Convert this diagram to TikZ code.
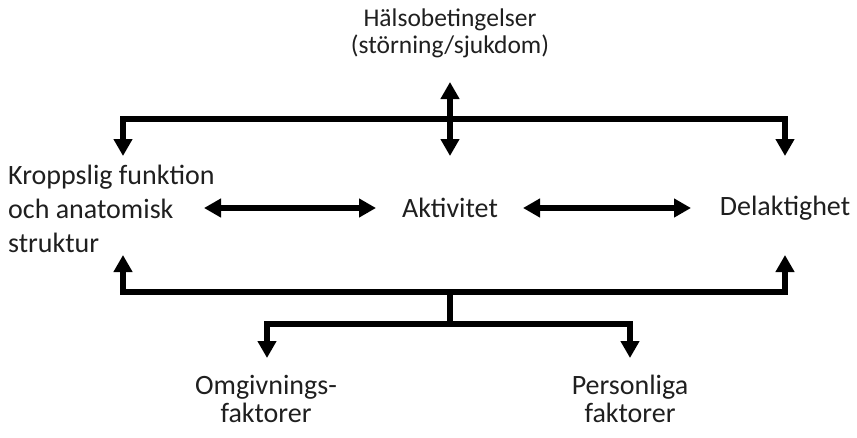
\documentclass[tikz,border=0pt]{standalone}
\usepackage{fontspec}
\setmainfont{Carlito}
\usetikzlibrary{arrows.meta}
\begin{document}
\begin{tikzpicture}[x=1pt,y=-1pt,
  conn/.style={line width=5.5pt, line join=miter, line cap=butt},
  arr/.style={conn, -{Triangle[width=18pt,length=17pt]}},
  dbl/.style={conn, {Triangle[width=18pt,length=17pt]}-{Triangle[width=18pt,length=17pt]}},
  lbl/.style={inner sep=0pt, text=black!88, align=center, font=\fontsize{28}{33}\selectfont}
]
\useasboundingbox (0,0) rectangle (857,437);
% nodes
\node[lbl, font=\fontsize{25.5}{27}\selectfont] (halsa) at (450,33) {Hälsobetingelser\\(störning/sjukdom)};
\node[lbl, anchor=west, align=left, font=\fontsize{28}{34}\selectfont] (kropp) at (8,209) {Kroppslig funktion\\och anatomisk\\struktur};
\node[lbl] (akt) at (450,208) {Aktivitet};
\node[lbl] (del) at (785,208) {Delaktighet};
\node[lbl, font=\fontsize{28}{28}\selectfont] (omg) at (266,399) {Omgivnings-\\faktorer};
\node[lbl, font=\fontsize{28}{28}\selectfont] (pers) at (630,399) {Personliga\\faktorer};
% coordinates
\coordinate (tl) at (123,119);
\coordinate (tr) at (785,119);
\coordinate (tlend) at (123,156);
\coordinate (trend) at (785,156);
\coordinate (htop) at (450,82);
\coordinate (hbot) at (450,156);
\coordinate (bl) at (123,292);
\coordinate (br) at (785,292);
\coordinate (blend) at (123,255);
\coordinate (brend) at (785,255);
\coordinate (bm) at (450,292);
\coordinate (bm2) at (450,324);
\coordinate (ol) at (267,324);
\coordinate (or) at (630,324);
\coordinate (olend) at (267,358);
\coordinate (orend) at (630,358);
\coordinate (k1) at (204,208);
\coordinate (k2) at (376,208);
\coordinate (d1) at (523,208);
\coordinate (d2) at (691,208);
% top bracket
\draw[arr] (tr) -- (tl) -- (tlend);
\draw[arr] (tl) -- (tr) -- (trend);
\draw[dbl] (htop) -- (hbot);
% middle
\draw[dbl] (k1) -- (k2);
\draw[dbl] (d1) -- (d2);
% bottom bracket
\draw[arr] (br) -- (bl) -- (blend);
\draw[arr] (bl) -- (br) -- (brend);
\draw[conn] (bm) -- (bm2);
\draw[arr] (or) -- (ol) -- (olend);
\draw[arr] (ol) -- (or) -- (orend);
\end{tikzpicture}
\end{document}
